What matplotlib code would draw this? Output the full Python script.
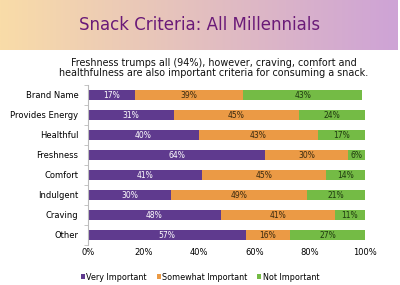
import numpy as np
import matplotlib.pyplot as plt

categories = ['Brand Name', 'Provides Energy', 'Healthful', 'Freshness',
              'Comfort', 'Indulgent', 'Craving', 'Other']
very = [17, 31, 40, 64, 41, 30, 48, 57]
somewhat = [39, 45, 43, 30, 45, 49, 41, 16]
not_imp = [43, 24, 17, 6, 14, 21, 11, 27]
series_names = ['Very Important', 'Somewhat Important', 'Not Important']
colors = ['#5f3a8e', '#eb9a45', '#74bb45']
label_colors = ['white', '#3a2a10', '#1f3a10']
xticks = [0, 20, 40, 60, 80, 100]

fig = plt.figure(figsize=(4, 2.85), dpi=100)

# banner with gradient
ban = fig.add_axes([0, 1 - 50 / 285, 0.995, 50 / 285])
grad = np.linspace(0, 1, 256).reshape(1, -1)
c0 = np.array([249, 220, 168]) / 255
c1 = np.array([206, 163, 214]) / 255
img = c0[None, None, :] * (1 - grad[..., None]) + c1[None, None, :] * grad[..., None]
ban.imshow(img, aspect='auto', extent=[0, 1, 0, 1])
ban.axis('off')
fig.text(0.5, 1 - 25 / 285, 'Snack Criteria: All Millennials', ha='center', va='center',
         fontsize=12, color='#6a1a78')

fig.text(0.535, 1 - 68 / 285,
         'Freshness trumps all (94%), however, craving, comfort and\n'
         'healthfulness are also important criteria for consuming a snack.',
         ha='center', va='center', fontsize=6.9, color='#111111', linespacing=1.1)

ax = fig.add_axes([88 / 400, 1 - 245 / 285, 277 / 400, 160 / 285])
y = np.arange(len(categories))
left = np.zeros(len(categories))
for vals, name, col, lc in zip([very, somewhat, not_imp], series_names, colors, label_colors):
    vals = np.array(vals, dtype=float)
    ax.barh(y, vals, left=left, height=0.48, color=col, label=name)
    for yi, l, v in zip(y, left, vals):
        ax.text(l + v / 2, yi, f'{int(v)}%', ha='center', va='center',
                fontsize=5.5, color=lc)
    left += vals

ax.set_ylim(len(categories) - 0.5, -0.5)
ax.set_xlim(0, 100)
ax.set_yticks(y)
ax.set_yticklabels(categories, fontsize=6)
ax.set_xticks(xticks)
ax.set_xticklabels([f'{t}%' for t in xticks], fontsize=6)
ax.tick_params(axis='y', length=0, pad=7)
ax.tick_params(axis='x', length=0, pad=2)
ax.set_yticks(np.arange(-0.5, len(categories)), minor=True)
ax.tick_params(axis='y', which='minor', length=3, color='#bbbbbb')
for s in ['top', 'right', 'bottom']:
    ax.spines[s].set_visible(False)
ax.spines['left'].set_color('#bbbbbb')

ax.legend(loc='center', bbox_to_anchor=(200 / 400, 1 - 277 / 285), bbox_transform=fig.transFigure,
          ncol=3, fontsize=5.8, frameon=False, handlelength=0.5, handleheight=0.5,
          handletextpad=0.2, columnspacing=1.2)

plt.savefig('out.png', dpi=100)
plt.close()
